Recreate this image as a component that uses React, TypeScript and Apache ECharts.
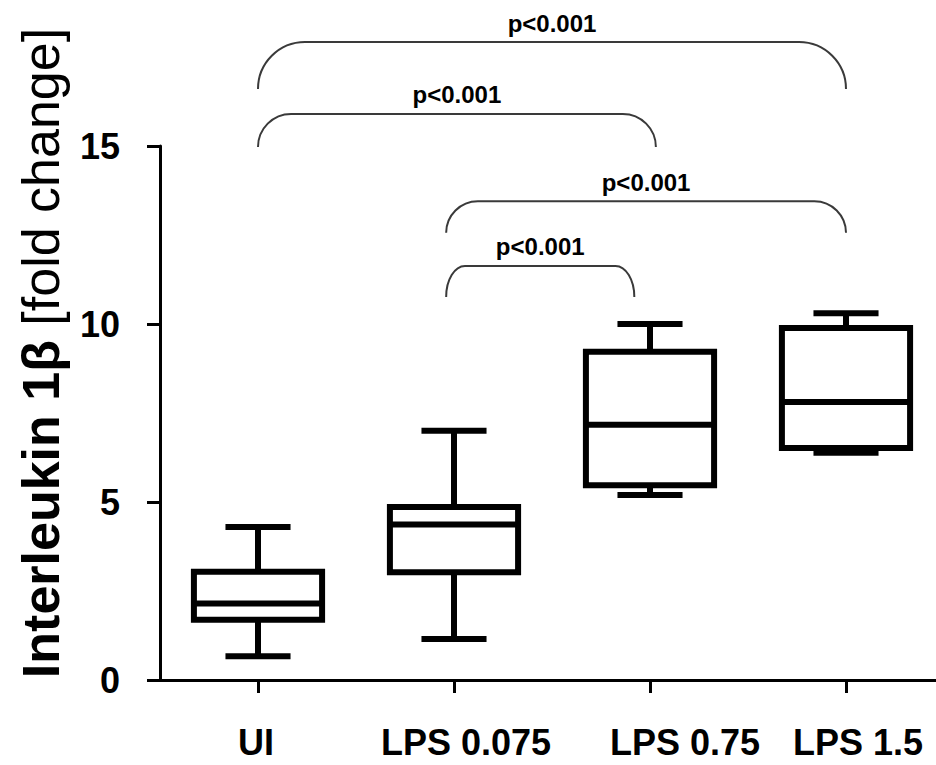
import React, { useEffect, useRef } from "react";
import * as echarts from "echarts";

const categories = ["UI", "LPS 0.075", "LPS 0.75", "LPS 1.5"];
const whiskerLow = [0.67, 1.15, 5.2, 6.38];
const q1 = [1.69, 3.03, 5.47, 6.52];
const median = [2.15, 4.37, 7.17, 7.81];
const q3 = [3.04, 4.86, 9.22, 9.89];
const whiskerHigh = [4.3, 7.0, 10.0, 10.3];

const yTicks = [0, 5, 10, 15];

// significance brackets (x in category units, y in data units)
const bracketX1 = [0, 0, 0.96, 0.96];
const bracketX2 = [3, 2.03, 3, 1.92];
const bracketBottom = [16.6, 14.97, 12.56, 10.76];
const bracketTop = [17.92, 15.9, 13.45, 11.63];
const bracketLabels = ["p<0.001", "p<0.001", "p<0.001", "p<0.001"];

// style: horizontal shift (px) of each category label relative to its tick
const LABEL_SHIFT = [-2, 12, 35, 12];

const FONT = '"Liberation Sans", Arial, Helvetica, sans-serif';

export default function App() {
  const ref = useRef<HTMLDivElement>(null);
  useEffect(() => {
    if (!ref.current) return;
    const chart = echarts.init(ref.current, undefined, { renderer: "svg" });

    const boxData = categories.map((_, i) => [i, whiskerLow[i], q1[i], median[i], q3[i], whiskerHigh[i]]);
    const bracketData = bracketX1.map((_, i) => [bracketX1[i], bracketX2[i], bracketBottom[i], bracketTop[i], i]);
    const xData = categories.map((c, i) => {
      const s = LABEL_SHIFT[i];
      return {
        value: c,
        textStyle: { padding: s >= 0 ? [0, 0, 0, 2 * s] : [0, -2 * s, 0, 0] },
      };
    });

    const option: any = {
      animation: false,
      backgroundColor: "#ffffff",
      grid: { left: 160, width: 784, top: 146, bottom: 85, containLabel: false, outerBoundsMode: "none" },
      xAxis: {
        type: "category",
        data: xData,
        boundaryGap: true,
        axisLine: { show: true, lineStyle: { color: "#000", width: 3 } },
        axisTick: { show: true, alignWithLabel: true, interval: 0, length: 13, lineStyle: { color: "#000", width: 3 } },
        axisLabel: { color: "#000", fontSize: 36, fontWeight: "bold", fontFamily: FONT, margin: 44, interval: 0 },
        splitLine: { show: false },
      },
      yAxis: {
        type: "value",
        min: 0,
        max: 15,
        interval: 5,
        axisLine: { show: true, lineStyle: { color: "#000", width: 3 } },
        axisTick: { show: true, length: 13, lineStyle: { color: "#000", width: 3 } },
        axisLabel: {
          color: "#000",
          fontSize: 36,
          fontWeight: "bold",
          fontFamily: FONT,
          margin: 40,
          formatter: (v: number) => (yTicks.includes(v) ? String(v) : ""),
        },
        splitLine: { show: false },
      },
      graphic: [
        {
          type: "text",
          x: 41,
          y: 353,
          rotation: Math.PI / 2,
          style: {
            text: "{b|Interleukin 1β} {n|[fold change]}",
            fontSize: 52,
            fontFamily: FONT,
            fill: "#000",
            align: "center",
            verticalAlign: "middle",
            rich: {
              b: { fontSize: 52, fontWeight: "bold", fontFamily: FONT, fill: "#000" },
              n: { fontSize: 52, fontWeight: "normal", fontFamily: FONT, fill: "#000" },
            },
          },
        },
      ],
      series: [
        {
          type: "custom",
          clip: false,
          encode: { x: 0, y: [1, 2, 3, 4, 5] },
          data: boxData,
          renderItem: (params: any, api: any) => {
            const cx = api.coord([api.value(0), 0])[0];
            const bw = api.size([1, 0])[0];
            const hb = bw * 0.327;
            const hc = bw * 0.166;
            const yLow = api.coord([api.value(0), api.value(1)])[1];
            const yQ1 = api.coord([api.value(0), api.value(2)])[1];
            const yMed = api.coord([api.value(0), api.value(3)])[1];
            const yQ3 = api.coord([api.value(0), api.value(4)])[1];
            const yHigh = api.coord([api.value(0), api.value(5)])[1];
            const ls = { stroke: "#000", lineWidth: 6, fill: null, lineCap: "butt" };
            return {
              type: "group",
              children: [
                { type: "line", shape: { x1: cx, y1: yQ3, x2: cx, y2: yHigh }, style: ls },
                { type: "line", shape: { x1: cx, y1: yQ1, x2: cx, y2: yLow }, style: ls },
                {
                  type: "rect",
                  shape: { x: cx - hb, y: yQ3, width: 2 * hb, height: yQ1 - yQ3 },
                  style: { stroke: "#000", lineWidth: 6, fill: "#fff", lineJoin: "miter" },
                },
                { type: "line", shape: { x1: cx - hb, y1: yMed, x2: cx + hb, y2: yMed }, style: ls },
                { type: "line", shape: { x1: cx - hc, y1: yHigh, x2: cx + hc, y2: yHigh }, style: ls },
                { type: "line", shape: { x1: cx - hc, y1: yLow, x2: cx + hc, y2: yLow }, style: ls },
              ],
            };
          },
        },
        {
          type: "custom",
          clip: false,
          encode: { x: [0, 1], y: [2, 3] },
          data: bracketData,
          renderItem: (params: any, api: any) => {
            const c0 = api.coord([0, 0])[0];
            const bw = api.size([1, 0])[0];
            const x1 = c0 + api.value(0) * bw;
            const x2 = c0 + api.value(1) * bw;
            const yb = api.coord([0, api.value(2)])[1];
            const yt = api.coord([0, api.value(3)])[1];
            const ry = yb - yt;
            const rx = Math.min(ry, 0.1 * (x2 - x1));
            const k = 0.5523;
            const d =
              `M ${x1} ${yb} ` +
              `C ${x1} ${yb - k * ry} ${x1 + rx - k * rx} ${yt} ${x1 + rx} ${yt} ` +
              `L ${x2 - rx} ${yt} ` +
              `C ${x2 - rx + k * rx} ${yt} ${x2} ${yb - k * ry} ${x2} ${yb}`;
            const idx = api.value(4);
            return {
              type: "group",
              children: [
                { type: "path", shape: { pathData: d }, style: { stroke: "#3a3a3a", lineWidth: 2, fill: null } },
                {
                  type: "text",
                  style: {
                    text: bracketLabels[idx],
                    x: (x1 + x2) / 2,
                    y: yt - 7,
                    align: "center",
                    verticalAlign: "bottom",
                    fontSize: 24,
                    fontWeight: "bold",
                    fontFamily: FONT,
                    fill: "#000",
                  },
                },
              ],
            };
          },
        },
      ],
    };
    chart.setOption(option);
    return () => chart.dispose();
  }, []);
  return (
    <div
      ref={ref}
      style={{ position: "fixed", left: 0, top: 0, width: 936, height: 765, background: "#fff" }}
    />
  );
}
